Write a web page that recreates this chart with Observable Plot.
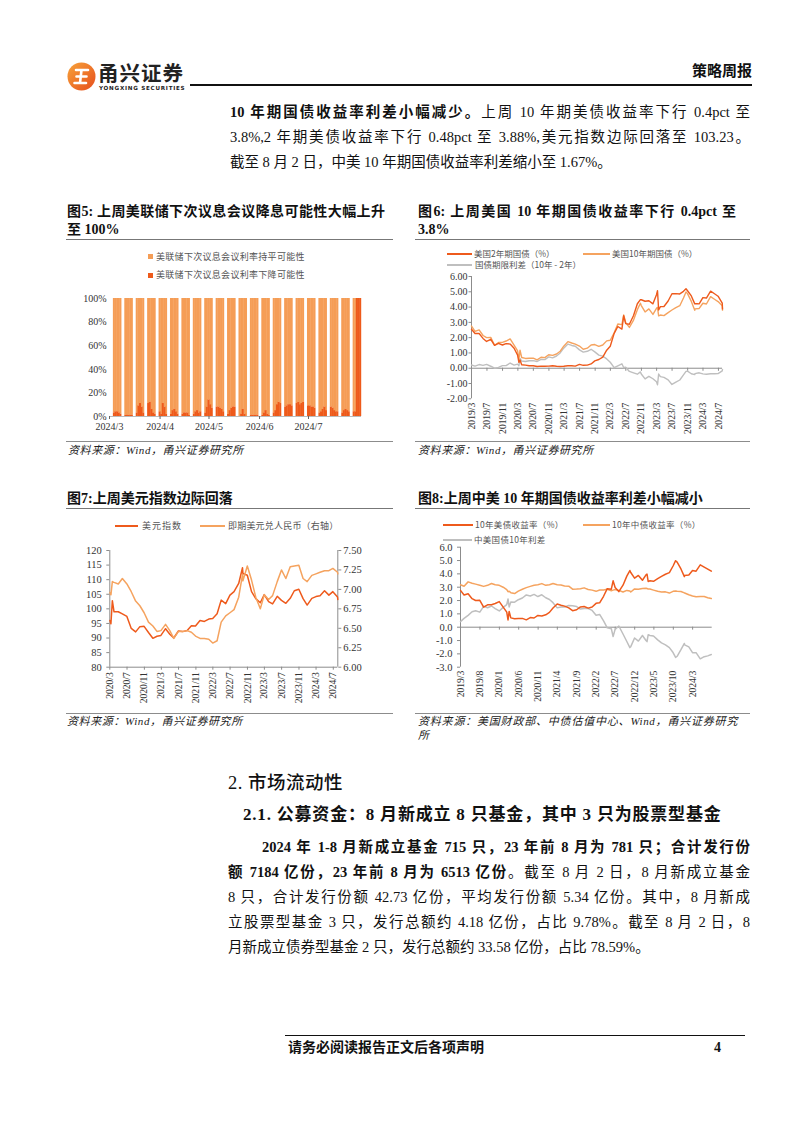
<!DOCTYPE html>
<html><head><meta charset="utf-8">
<script src="https://cdn.jsdelivr.net/npm/d3@7"></script>
<script src="https://cdn.jsdelivr.net/npm/@observablehq/plot@0.6"></script>
<style>
body{margin:0;background:#fff;}
#page{position:relative;width:802px;height:1133px;overflow:hidden;font-family:'Liberation Serif','Noto Sans CJK SC',serif;color:#111;}
.abs{position:absolute;}
.ln{position:absolute;height:25px;line-height:25px;font-size:14.5px;white-space:normal;}
.j{text-align:justify;text-align-last:justify;}
.ttl{position:absolute;font-weight:700;font-size:14px;line-height:18px;color:#111;}
.rule{position:absolute;height:1px;background:#8c8c8c;}
.src{position:absolute;font-style:italic;font-size:11px;line-height:14px;color:#222;letter-spacing:0.6px;}
.leg{position:absolute;font-family:'Noto Sans CJK SC',sans-serif;font-size:9px;line-height:12px;color:#555;white-space:nowrap;}
.sw{position:absolute;height:2px;}
.chart svg{overflow:visible;}
</style></head>
<body><div id="page">

<!-- header -->
<svg class="abs" style="left:67px;top:62px" width="29" height="29" viewBox="0 0 29 29">
 <defs><linearGradient id="lg" x1="0" y1="0" x2="1" y2="1"><stop offset="0" stop-color="#F7A33A"/><stop offset="1" stop-color="#E64E1C"/></linearGradient></defs>
 <circle cx="14.5" cy="14.5" r="14" fill="url(#lg)"/>
 <path d="M9 8 H21 M9.5 14.5 H19.5 M7.5 21 H19 M14.5 8 L13 21" stroke="#fff" stroke-width="2.6" fill="none" stroke-linecap="round"/>
</svg>
<div class="abs" style="left:98px;top:61px;font:700 20.5px 'Noto Sans CJK SC';letter-spacing:1px;line-height:22px;color:#222">甬兴证券</div>
<div class="abs" style="left:99px;top:85px;font:700 5.6px 'DejaVu Sans';letter-spacing:0.75px;line-height:7px;color:#222">YONGXING SECURITIES</div>
<div class="abs" style="left:190px;top:84px;width:562px;height:1.5px;background:#111"></div>
<div class="abs" style="left:682px;top:60px;width:70px;text-align:right;font:700 15px 'Noto Sans CJK SC';line-height:20px;color:#111">策略周报</div>

<!-- top paragraph -->
<div class="ln j" style="left:230px;width:520px;top:99.5px"><b>10 年期国债收益率利差小幅减少。</b>上周 10 年期美债收益率下行 0.4pct 至</div>
<div class="ln j" style="left:230px;width:520px;top:124.5px">3.8%,2 年期美债收益率下行 0.48pct 至 3.88%,美元指数边际回落至 103.23。</div>
<div class="ln" style="left:230px;width:520px;top:149.5px">截至 8 月 2 日，中美 10 年期国债收益率利差缩小至 1.67%。</div>

<!-- figure 5 -->
<div class="ttl j" style="left:67px;width:318px;top:203px">图5: 上周美联储下次议息会议降息可能性大幅上升</div>
<div class="ttl" style="left:67px;top:221px">至 100%</div>
<div class="rule" style="left:66px;width:327px;top:239px;background:#777"></div>
<div class="abs" style="left:148px;top:254px;width:5px;height:5px;background:#F59D56"></div>
<div class="leg" style="left:156px;top:250.5px;letter-spacing:0.3px">美联储下次议息会议利率持平可能性</div>
<div class="abs" style="left:148px;top:272.5px;width:5px;height:5px;background:#EE5A1A"></div>
<div class="leg" style="left:156px;top:269px;letter-spacing:0.3px">美联储下次议息会议利率下降可能性</div>
<div id="c5" class="abs chart" style="left:60px;top:288px;width:320px"></div>
<div class="rule" style="left:66px;width:327px;top:441px"></div>
<div class="src" style="left:68px;top:443px">资料来源：Wind，甬兴证券研究所</div>

<!-- figure 6 -->
<div class="ttl j" style="left:418px;width:318px;top:203px">图6: 上周美国 10 年期国债收益率下行 0.4pct 至</div>
<div class="ttl" style="left:418px;top:221px">3.8%</div>
<div class="rule" style="left:415px;width:335px;top:239px;background:#777"></div>
<div class="sw" style="left:447px;width:25px;top:252.5px;background:#EE5A1C"></div>
<div class="leg" style="left:474px;top:247px;font-size:8.5px">美国2年期国债（%）</div>
<div class="sw" style="left:583px;width:27px;top:252.5px;background:#F5A35F"></div>
<div class="leg" style="left:612px;top:247px;font-size:8.5px">美国10年期国债（%）</div>
<div class="sw" style="left:447px;width:25px;top:263.5px;background:#BFBFBF"></div>
<div class="leg" style="left:475px;top:258px;font-size:8.5px">国债期限利差（10年 - 2年）</div>
<div id="c6" class="abs chart" style="left:410px;top:268px;width:340px"></div>
<div class="rule" style="left:415px;width:335px;top:441px"></div>
<div class="src" style="left:418px;top:443px">资料来源：Wind，甬兴证券研究所</div>

<!-- figure 7 -->
<div class="ttl" style="left:67px;top:490px">图7:上周美元指数边际回落</div>
<div class="rule" style="left:66px;width:327px;top:508px;background:#777"></div>
<div class="sw" style="left:115px;width:23px;top:525px;background:#EE5A1C"></div>
<div class="leg" style="left:142px;top:519.5px;letter-spacing:1px">美元指数</div>
<div class="sw" style="left:200px;width:25px;top:525px;background:#F5A35F"></div>
<div class="leg" style="left:228px;top:519.5px;letter-spacing:0.2px">即期美元兑人民币（右轴）</div>
<div id="c7" class="abs chart" style="left:60px;top:540px;width:340px"></div>
<div class="rule" style="left:66px;width:327px;top:713px"></div>
<div class="src" style="left:67px;top:714px">资料来源：Wind，甬兴证券研究所</div>

<!-- figure 8 -->
<div class="ttl" style="left:418px;top:490px;letter-spacing:0px">图8:上周中美 10 年期国债收益率利差小幅减小</div>
<div class="rule" style="left:415px;width:335px;top:508px;background:#777"></div>
<div class="sw" style="left:443px;width:30px;top:523.5px;background:#EE5A1C"></div>
<div class="leg" style="left:475px;top:518px;font-size:8.5px;letter-spacing:0.3px">10年美债收益率（%）</div>
<div class="sw" style="left:583px;width:27px;top:523.5px;background:#F5A35F"></div>
<div class="leg" style="left:612px;top:518px;font-size:8.5px;letter-spacing:0.3px">10年中债收益率（%）</div>
<div class="sw" style="left:443px;width:29px;top:538.5px;background:#BFBFBF"></div>
<div class="leg" style="left:474px;top:533px;font-size:8.5px;letter-spacing:0.3px">中美国债10年利差</div>
<div id="c8" class="abs chart" style="left:410px;top:540px;width:340px"></div>
<div class="rule" style="left:415px;width:335px;top:713px"></div>
<div class="src j" style="left:418px;width:320px;top:714px">资料来源：美国财政部、中债估值中心、Wind，甬兴证券研究</div>
<div class="src" style="left:418px;top:728px">所</div>

<!-- section 2 -->
<div class="abs" style="left:228px;top:770px;font:500 18.5px 'Liberation Serif','Noto Sans CJK SC';line-height:26px;letter-spacing:0.5px">2. 市场流动性</div>
<div class="abs" style="left:243px;top:803px;font-weight:700;font-size:17px;line-height:24px;letter-spacing:0.8px;white-space:nowrap">2.1. 公募资金：8 月新成立 8 只基金，其中 3 只为股票型基金</div>
<div class="ln j" style="left:262px;width:488px;top:834.5px"><b>2024 年 1-8 月新成立基金 715 只，23 年前 8 月为 781 只；合计发行份</b></div>
<div class="ln j" style="left:228px;width:522px;top:859.5px"><b>额 7184 亿份，23 年前 8 月为 6513 亿份</b>。截至 8 月 2 日，8 月新成立基金</div>
<div class="ln j" style="left:228px;width:522px;top:884.5px">8 只，合计发行份额 42.73 亿份，平均发行份额 5.34 亿份。其中，8 月新成</div>
<div class="ln j" style="left:228px;width:522px;top:909.5px">立股票型基金 3 只，发行总额约 4.18 亿份，占比 9.78%。截至 8 月 2 日，8</div>
<div class="ln" style="left:228px;width:522px;top:934.5px">月新成立债券型基金 2 只，发行总额约 33.58 亿份，占比 78.59%。</div>

<!-- footer -->
<div class="abs" style="left:285px;top:1035px;width:460px;height:1px;background:#111"></div>
<div class="abs" style="left:288px;top:1039px;font-weight:700;font-size:14px;line-height:18px">请务必阅读报告正文后各项声明</div>
<div class="abs" style="left:714px;top:1039px;font-weight:700;font-size:14px;line-height:18px">4</div>

</div>
<script>
// ---------- colours ----------
const RED = "#EE5A1C", ORANGE = "#F5A35F", GRAY = "#BFBFBF", BAR_ORANGE = "#F59D56", BAR_RED = "#EE5A1A", AXIS = "#8c8c8c";
const monthFmt = d3.utcFormat("%Y/%-m");

// ---------- Figure 5 data: weekly groups of 5 trading days ----------
const fedWeeks = ["2024-03-04","2024-03-11","2024-03-18","2024-03-25","2024-04-01","2024-04-08","2024-04-15","2024-04-22","2024-04-29","2024-05-06","2024-05-13","2024-05-20","2024-05-27","2024-06-03","2024-06-10","2024-06-17","2024-06-24","2024-07-01","2024-07-08","2024-07-15","2024-07-22","2024-07-29"];
const cutProb = [
 3,4,4,3,2,  1,1,1,1,1,  3,9,11,8,3,  11,12,6,3,2,  4,2,11,8,2,  2,5,6,4,2,
 2,3,3,3,1,  2,4,5,3,4,  3,8,14,10,7,  8,8,7,6,4,  2,5,7,8,8,  0,2,6,2,0,
 1,1,1,1,1,  1,3,5,2,1,  3,5,10,12,11,  8,9,10,10,9,  11,12,10,11,12,  9,9,8,8,7,
 3,4,6,8,5,  8,7,5,4,4,  3,5,6,5,4,  4,4,100,100,100
];
const fedTicks = ["2024-03-01","2024-04-01","2024-05-01","2024-06-01","2024-07-01"];

// ---------- Figure 6 data ----------
const usDates = ["2019-03-01","2019-03-29","2019-04-30","2019-05-31","2019-06-28","2019-07-31","2019-08-30","2019-09-30","2019-10-31","2019-11-29","2019-12-31",
"2020-01-31","2020-02-28","2020-03-09","2020-03-18","2020-03-31","2020-04-30","2020-05-29","2020-06-30","2020-07-31","2020-08-31","2020-09-30","2020-10-30","2020-11-30","2020-12-31",
"2021-01-29","2021-02-26","2021-03-31","2021-04-30","2021-05-28","2021-06-30","2021-07-30","2021-08-31","2021-09-30","2021-10-29","2021-11-30","2021-12-31",
"2022-01-31","2022-02-28","2022-03-31","2022-04-29","2022-05-31","2022-06-14","2022-06-30","2022-07-29","2022-08-31","2022-09-30","2022-10-24","2022-10-31","2022-11-30","2022-12-30",
"2023-01-31","2023-02-28","2023-03-08","2023-03-17","2023-03-31","2023-04-28","2023-05-31","2023-06-30","2023-07-31","2023-08-31","2023-09-29","2023-10-19","2023-10-31","2023-11-30","2023-12-27","2023-12-29",
"2024-01-31","2024-02-29","2024-03-28","2024-04-30","2024-05-31","2024-06-28","2024-07-31","2024-08-02"];
const us10y = [2.76,2.41,2.51,2.14,2.00,2.02,1.50,1.68,1.69,1.78,1.92,
 1.51,1.13,0.54,1.18,0.70,0.64,0.65,0.66,0.55,0.72,0.69,0.88,0.84,0.93,
 1.11,1.44,1.74,1.65,1.58,1.45,1.24,1.31,1.52,1.55,1.43,1.52,
 1.79,1.83,2.32,2.89,2.85,3.48,2.98,2.67,3.15,3.83,4.25,4.10,3.68,3.88,
 3.52,3.92,3.98,3.43,3.48,3.44,3.64,3.81,3.97,4.09,4.59,4.99,4.88,4.37,3.79,3.88,
 3.91,4.25,4.20,4.68,4.51,4.36,4.09,3.80];
const us2y = [2.55,2.27,2.27,1.95,1.75,1.89,1.50,1.63,1.52,1.61,1.58,
 1.31,0.86,0.38,0.54,0.23,0.20,0.16,0.16,0.11,0.14,0.13,0.14,0.16,0.13,
 0.11,0.13,0.16,0.16,0.14,0.25,0.19,0.20,0.28,0.48,0.57,0.73,
 1.18,1.44,2.28,2.73,2.56,3.43,2.92,2.88,3.45,4.22,4.49,4.48,4.38,4.41,
 4.21,4.81,5.07,3.81,4.03,4.04,4.40,4.87,4.88,4.86,5.03,5.20,5.07,4.73,4.21,4.23,
 4.21,4.62,4.59,5.04,4.87,4.71,4.26,3.88];
const usTermSpread = [0.21,0.14,0.24,0.19,0.25,0.13,0.00,0.05,0.17,0.17,0.34,
 0.20,0.27,0.16,0.64,0.47,0.44,0.49,0.50,0.44,0.58,0.56,0.74,0.68,0.80,
 1.00,1.31,1.58,1.49,1.44,1.20,1.05,1.11,1.24,1.07,0.86,0.79,
 0.61,0.39,0.04,0.16,0.29,0.05,0.06,-0.21,-0.30,-0.39,-0.24,-0.38,-0.70,-0.53,
 -0.69,-0.89,-1.09,-0.38,-0.55,-0.60,-0.76,-1.06,-0.91,-0.77,-0.44,-0.21,-0.19,-0.36,-0.42,-0.35,
 -0.30,-0.37,-0.39,-0.36,-0.36,-0.35,-0.17,-0.08];

// ---------- Figure 7 data ----------
const fxDates = ["2020-03-02","2020-03-09","2020-03-19","2020-03-31","2020-04-30","2020-05-29","2020-06-30","2020-07-31","2020-08-31","2020-09-30","2020-10-30","2020-11-30","2020-12-31",
"2021-01-29","2021-02-26","2021-03-31","2021-04-30","2021-05-28","2021-06-30","2021-07-30","2021-08-31","2021-09-30","2021-10-29","2021-11-30","2021-12-31",
"2022-01-31","2022-02-28","2022-03-31","2022-04-29","2022-05-31","2022-06-30","2022-07-29","2022-08-31","2022-09-27","2022-09-30","2022-10-31","2022-11-30","2022-12-30",
"2023-01-31","2023-02-28","2023-03-31","2023-04-28","2023-05-31","2023-06-30","2023-07-31","2023-08-31","2023-09-29","2023-10-31","2023-11-30","2023-12-29",
"2024-01-31","2024-02-29","2024-03-29","2024-04-30","2024-05-31","2024-06-28","2024-07-31","2024-08-02"];
const dxy = [96.0,94.9,102.8,99.0,99.0,98.3,97.4,93.3,92.1,93.9,94.0,91.9,89.9,
 90.6,90.9,93.2,91.3,90.0,92.4,92.2,92.6,94.2,94.1,96.0,95.7,
 96.5,96.7,98.3,103.0,101.8,104.7,105.9,108.7,114.1,112.1,111.5,105.9,103.5,
 102.1,104.9,102.5,101.7,104.3,102.9,101.9,103.6,106.2,106.7,103.5,101.3,
 103.6,104.2,104.5,106.2,104.7,105.9,104.1,103.2];
const usdcny = [6.96,6.93,7.10,7.09,7.07,7.14,7.07,6.97,6.85,6.79,6.70,6.58,6.53,
 6.46,6.47,6.55,6.47,6.37,6.46,6.46,6.47,6.45,6.40,6.37,6.37,
 6.36,6.31,6.34,6.58,6.66,6.70,6.74,6.90,7.19,7.11,7.30,7.12,6.90,
 6.75,6.93,6.87,6.92,7.10,7.25,7.14,7.29,7.30,7.31,7.14,7.10,
 7.18,7.20,7.22,7.24,7.24,7.27,7.22,7.20];
const cnyTicks = [6.00,6.25,6.50,6.75,7.00,7.25,7.50];

// ---------- Figure 8 data ----------
const cnDates = usDates.slice(0, 73).concat(["2024-07-26"]);
const cn10y = [3.18,3.07,3.40,3.30,3.23,3.15,3.06,3.14,3.28,3.18,3.14,
 3.00,2.82,2.66,2.70,2.59,2.52,2.71,2.85,2.97,3.06,3.15,3.18,3.27,3.14,
 3.19,3.28,3.19,3.16,3.09,3.08,2.85,2.86,2.88,2.95,2.83,2.78,
 2.69,2.79,2.79,2.84,2.74,2.78,2.82,2.76,2.64,2.76,2.72,2.64,2.87,2.84,
 2.90,2.92,2.90,2.86,2.86,2.78,2.69,2.64,2.65,2.56,2.69,2.72,2.70,2.68,2.57,2.56,
 2.43,2.34,2.29,2.31,2.30,2.21,2.15];
const us10yForCn = us10y.slice(0, 73).concat([4.20]);
const cnUsSpread = [0.42,0.66,0.89,1.16,1.23,1.13,1.56,1.46,1.59,1.40,1.22,
 1.49,1.69,2.12,1.52,1.89,1.88,2.06,2.19,2.42,2.34,2.46,2.30,2.43,2.21,
 2.08,1.84,1.45,1.51,1.51,1.63,1.61,1.55,1.36,1.40,1.40,1.26,
 0.90,0.96,0.47,-0.05,-0.11,-0.70,-0.16,0.09,-0.51,-1.07,-1.53,-1.46,-0.81,-1.04,
 -0.62,-1.00,-1.08,-0.57,-0.62,-0.66,-0.95,-1.17,-1.32,-1.53,-1.90,-2.27,-2.18,-1.69,-1.22,-1.32,
 -1.48,-1.91,-1.91,-2.37,-2.21,-2.15,-2.05];

const baseStyle = {fontFamily: "'Liberation Serif', serif", fontSize: "10px", color: "#333", background: "transparent", overflow: "visible"};

// ---------- Figure 5 ----------
{
  const days = [];
  fedWeeks.forEach(w => { for (let k = 0; k < 5; k++) days.push(d3.utcDay.offset(new Date(w), k)); });
  const bars = days.map((d, i) => ({x1: d3.utcHour.offset(d, -12), x2: d3.utcHour.offset(d, 12), cut: cutProb[i]}));
  const chart = Plot.plot({
    width: 320, height: 150, marginLeft: 49, marginRight: 19, marginTop: 10, marginBottom: 22,
    style: baseStyle,
    x: {type: "utc", domain: [new Date("2024-03-01"), new Date("2024-08-02T12:00Z")]},
    y: {domain: [0, 100]},
    marks: [
      Plot.rect(bars, {x1: "x1", x2: "x2", y1: "cut", y2: 100, fill: BAR_ORANGE, insetLeft: -0.2, insetRight: -0.2}),
      Plot.rect(bars, {x1: "x1", x2: "x2", y1: 0, y2: "cut", fill: BAR_RED, insetLeft: -0.2, insetRight: -0.2}),
      Plot.ruleY([0], {stroke: "#bbb"}),
      Plot.axisY({ticks: [0,20,40,60,80,100], tickFormat: d => d + "%", tickSize: 0, tickPadding: 3, label: null}),
      Plot.axisX({ticks: fedTicks.map(d => new Date(d)), tickFormat: monthFmt, tickSize: 3, tickPadding: 3, label: null, stroke: "#666"})
    ]
  });
  document.getElementById("c5").appendChild(chart);
}

// ---------- Figure 6 ----------
{
  const data = usDates.map((d, i) => ({date: new Date(d), y2: us2y[i], y10: us10y[i], sp: usTermSpread[i]}));
  const x0 = new Date("2019-03-01"), x1 = new Date("2024-08-02");
  const ticks = d3.utcMonth.range(x0, new Date("2024-08-01"), 4);
  const chart = Plot.plot({
    width: 340, height: 168, marginLeft: 61, marginRight: 28, marginTop: 8, marginBottom: 37.7,
    style: {...baseStyle, fontSize: "9.6px"},
    x: {type: "utc", domain: [x0, x1]},
    y: {domain: [-2, 6]},
    marks: [
      Plot.ruleX([x0], {stroke: AXIS}),
      Plot.ruleY([0], {stroke: AXIS}),
      Plot.ruleX(ticks, {y1: 0, y2: -0.2, stroke: AXIS}),
      Plot.axisY({ticks: d3.range(-2, 7, 1), tickFormat: d => d.toFixed(2), tickSize: 2.5, tickPadding: 1.5, label: null, stroke: AXIS, fontSize: 10}),
      Plot.axisX({ticks, tickFormat: monthFmt, tickRotate: -90, tickSize: 0, tickPadding: 4, label: null}),
      Plot.lineY(data, {x: "date", y: "sp", stroke: GRAY, strokeWidth: 1.4}),
      Plot.lineY(data, {x: "date", y: "y10", stroke: ORANGE, strokeWidth: 1.4}),
      Plot.lineY(data, {x: "date", y: "y2", stroke: RED, strokeWidth: 1.4})
    ]
  });
  document.getElementById("c6").appendChild(chart);
}

// ---------- Figure 7 ----------
{
  const toLeft = c => 80 + (c - 6) * (40 / 1.5);
  const fromLeft = v => 6 + (v - 80) * (1.5 / 40);
  const data = fxDates.map((d, i) => ({date: new Date(d), dxy: dxy[i], cny: usdcny[i]}));
  const x0 = new Date("2020-03-01"), x1 = new Date("2024-08-02");
  const ticks = d3.utcMonth.range(x0, new Date("2024-08-01"), 4);
  const chart = Plot.plot({
    width: 340, height: 165, marginLeft: 49.3, marginRight: 62.7, marginTop: 10, marginBottom: 38.3,
    style: {...baseStyle, fontSize: "9.6px"},
    x: {type: "utc", domain: [x0, x1]},
    y: {domain: [80, 120]},
    marks: [
      Plot.ruleX([x0], {stroke: AXIS}),
      Plot.ruleX([x1], {stroke: AXIS}),
      Plot.ruleY([80], {stroke: AXIS}),
      Plot.axisY({ticks: d3.range(80, 121, 5), tickSize: 3, tickPadding: 5, label: null, stroke: AXIS, fontSize: 10.5}),
      Plot.axisY({anchor: "right", ticks: cnyTicks.map(toLeft), tickFormat: v => fromLeft(v).toFixed(2), tickSize: 3, tickPadding: 2.5, label: null, stroke: AXIS, fontSize: 10.5}),
      Plot.axisX({ticks, tickFormat: monthFmt, tickRotate: -90, tickSize: 3, tickPadding: 2, label: null, stroke: AXIS}),
      Plot.lineY(data, {x: "date", y: "dxy", stroke: RED, strokeWidth: 1.5}),
      Plot.lineY(data, {x: "date", y: d => toLeft(d.cny), stroke: ORANGE, strokeWidth: 1.5})
    ]
  });
  document.getElementById("c7").appendChild(chart);
}

// ---------- Figure 8 ----------
{
  const data = cnDates.map((d, i) => ({date: new Date(d), us: us10yForCn[i], cn: cn10y[i], sp: cnUsSpread[i]}));
  const x0 = new Date("2019-03-01"), x1 = new Date("2024-08-02");
  const ticks = d3.utcMonth.range(x0, new Date("2024-04-01"), 5);
  const chart = Plot.plot({
    width: 340, height: 160, marginLeft: 50, marginRight: 38.3, marginTop: 6.7, marginBottom: 33.3,
    style: {...baseStyle, fontSize: "9.6px"},
    x: {type: "utc", domain: [x0, x1]},
    y: {domain: [-3, 6]},
    marks: [
      Plot.ruleX([x0], {stroke: AXIS}),
      Plot.ruleY([0], {stroke: AXIS}),
      Plot.ruleX(ticks, {y1: 0, y2: -0.22, stroke: AXIS}),
      Plot.axisY({ticks: d3.range(-3, 7, 1), tickFormat: d => d.toFixed(1), tickSize: 3, tickPadding: 5, label: null, stroke: AXIS, fontSize: 10.5}),
      Plot.axisX({ticks, tickFormat: monthFmt, tickRotate: -90, tickSize: 0, tickPadding: 3.5, label: null}),
      Plot.lineY(data, {x: "date", y: "sp", stroke: GRAY, strokeWidth: 1.5}),
      Plot.lineY(data, {x: "date", y: "cn", stroke: ORANGE, strokeWidth: 1.5}),
      Plot.lineY(data, {x: "date", y: "us", stroke: RED, strokeWidth: 1.5})
    ]
  });
  document.getElementById("c8").appendChild(chart);
}
</script>
</body></html>
